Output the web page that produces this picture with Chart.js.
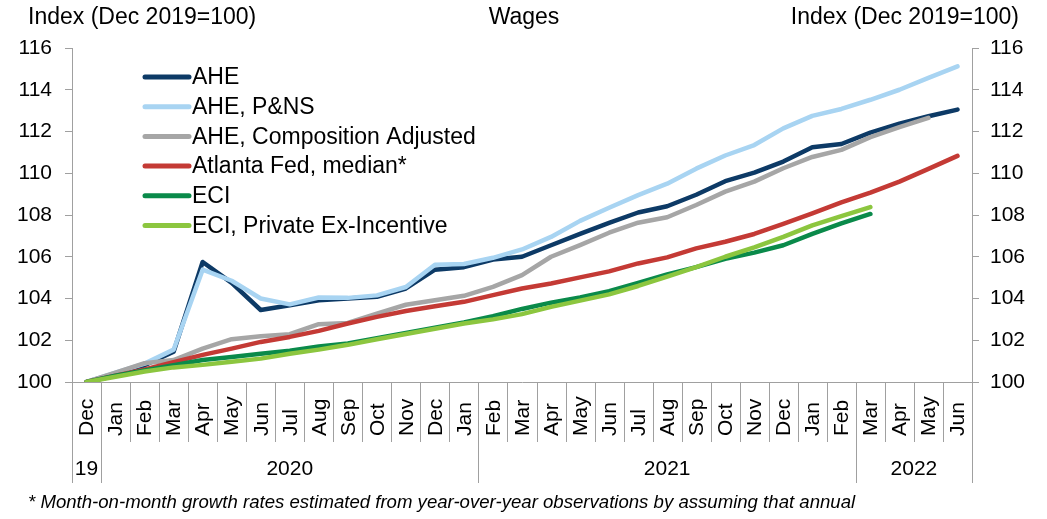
<!DOCTYPE html>
<html>
<head>
<meta charset="utf-8">
<script src="https://cdn.jsdelivr.net/npm/chart.js@4.4.1/dist/chart.umd.min.js"></script>
<style>
  html, body { margin: 0; padding: 0; background: #fff; }
  #wrap { width: 1047px; height: 519px; }
</style>
</head>
<body>
<div id="wrap"><canvas id="chart" width="1047" height="519"></canvas></div>
<script>
// months Dec 2019 .. Jun 2022
const months = ['Dec','Jan','Feb','Mar','Apr','May','Jun','Jul','Aug','Sep','Oct','Nov',
  'Dec','Jan','Feb','Mar','Apr','May','Jun','Jul','Aug','Sep','Oct','Nov',
  'Dec','Jan','Feb','Mar','Apr','May','Jun'];
const yearLabels = ['19', '2020', '2021', '2022'];
const yearStarts = [0, 1, 14, 27];

const ahe = [100, 100.4, 100.8, 101.45, 105.75, 104.75, 103.45, 103.68, 103.92, 104.0, 104.08, 104.48,
  105.38, 105.5, 105.87, 106.0, 106.55, 107.1, 107.62, 108.12, 108.42, 108.97, 109.62, 110.03,
  110.56, 111.25, 111.4, 111.95, 112.38, 112.73, 113.05];
const ahePns = [100, 100.45, 100.88, 101.55, 105.38, 104.85, 104.0, 103.72, 104.05, 104.03, 104.15, 104.55,
  105.62, 105.65, 105.95, 106.35, 106.95, 107.72, 108.35, 108.95, 109.5, 110.22, 110.85, 111.35,
  112.15, 112.75, 113.08, 113.52, 114.0, 114.57, 115.12];
const aheComp = [100, 100.45, 100.9, 101.05, 101.6, 102.05, 102.19, 102.29, 102.77, 102.83, 103.28, 103.7,
  103.92, 104.13, 104.56, 105.12, 106.0, 106.56, 107.15, 107.63, 107.89, 108.48, 109.12, 109.6,
  110.24, 110.78, 111.12, 111.73, 112.21, 112.65];
const atlanta = [100, 100.3, 100.6, 100.95, 101.3, 101.6, 101.92, 102.16, 102.45, 102.8, 103.12, 103.4,
  103.63, 103.84, 104.16, 104.48, 104.72, 105.01, 105.3, 105.68, 105.97, 106.4, 106.72, 107.09,
  107.57, 108.08, 108.6, 109.07, 109.6, 110.21, 110.83];
const eci = [100, 100.3, 100.55, 100.8, 101.05, 101.2, 101.35, 101.5, 101.7, 101.85, 102.1, 102.35,
  102.6, 102.85, 103.15, 103.5, 103.8, 104.05, 104.35, 104.75, 105.15, 105.5, 105.9, 106.2,
  106.55, 107.1, 107.6, 108.05];
const eciPriv = [100, 100.25, 100.5, 100.7, 100.82, 100.97, 101.12, 101.35, 101.55, 101.78, 102.05, 102.3,
  102.55, 102.8, 103.0, 103.25, 103.6, 103.9, 104.2, 104.6, 105.05, 105.5, 106.0, 106.45,
  106.95, 107.5, 107.95, 108.38];

const FONT = '"Liberation Sans", Arial, sans-serif';
const AXIS = '#a0a0a0';

const series = [
  { label: 'AHE', data: ahe, color: '#0d3a66' },
  { label: 'AHE, P&NS', data: ahePns, color: '#a8d4f2' },
  { label: 'AHE, Composition Adjusted', data: aheComp, color: '#a6a6a6' },
  { label: 'Atlanta Fed, median*', data: atlanta, color: '#c43a35' },
  { label: 'ECI', data: eci, color: '#0a8a4a' },
  { label: 'ECI, Private Ex-Incentive', data: eciPriv, color: '#8cc63f' },
];

// custom drawing: titles, legend, month/year axis, footnote
const extras = {
  id: 'extras',
  afterDraw(chart) {
    const ctx = chart.ctx;
    const x = chart.scales.x;
    const area = chart.chartArea;
    const w = x.getPixelForValue(1) - x.getPixelForValue(0);
    ctx.save();

    // titles
    ctx.fillStyle = '#000';
    ctx.font = '23px ' + FONT;
    ctx.textBaseline = 'middle';
    ctx.textAlign = 'left';
    ctx.fillText('Index (Dec 2019=100)', 28, 18);
    ctx.textAlign = 'center';
    ctx.fillText('Wages', 524, 18);
    ctx.textAlign = 'right';
    ctx.fillText('Index (Dec 2019=100)', 1019, 18);

    // legend
    ctx.textAlign = 'left';
    chart.data.datasets.forEach((ds, i) => {
      const y = 77 + i * 29.7;
      ctx.strokeStyle = ds.borderColor;
      ctx.lineWidth = 5;
      ctx.lineCap = 'round';
      ctx.beginPath();
      ctx.moveTo(145, y);
      ctx.lineTo(189, y);
      ctx.stroke();
      ctx.fillText(ds.label, 192, y + 1);
    });

    // month dividers and labels
    ctx.font = '21px ' + FONT;
    ctx.strokeStyle = AXIS;
    ctx.lineWidth = 1;
    ctx.lineCap = 'butt';
    const top = area.bottom;
    for (let i = 0; i <= months.length; i++) {
      const bx = Math.round(x.getPixelForValue(i) - w / 2) + 0.5;
      const isYear = yearStarts.includes(i) || i === months.length;
      ctx.beginPath();
      ctx.moveTo(bx, top);
      ctx.lineTo(bx, isYear ? 483 : 442);
      ctx.stroke();
    }
    months.forEach((m, i) => {
      ctx.save();
      ctx.translate(x.getPixelForValue(i) + 1, 436);
      ctx.rotate(-Math.PI / 2);
      ctx.textAlign = 'left';
      ctx.textBaseline = 'middle';
      ctx.fillText(m, 0, 0);
      ctx.restore();
    });
    yearLabels.forEach((yl, k) => {
      const s = yearStarts[k];
      const e = (k + 1 < yearStarts.length ? yearStarts[k + 1] : months.length) - 1;
      const cx = (x.getPixelForValue(s) + x.getPixelForValue(e)) / 2;
      ctx.textAlign = 'center';
      ctx.fillText(yl, cx, 469);
    });

    // footnote
    ctx.font = 'italic 18.6px ' + FONT;
    ctx.textAlign = 'left';
    ctx.fillText('* Month-on-month growth rates estimated from year-over-year observations by assuming that annual', 28, 503);
    ctx.restore();
  }
};

const yAxis = (pos, width, pad) => ({
  type: 'linear',
  position: pos,
  min: 100,
  max: 116,
  ticks: { stepSize: 2, color: '#000', font: { family: FONT, size: 21 }, padding: pad },
  grid: { drawOnChartArea: false, tickLength: 7, color: AXIS },
  border: { color: AXIS },
  afterFit: s => { s.width = width; },
});

new Chart(document.getElementById('chart'), {
  type: 'line',
  data: {
    labels: months,
    datasets: series.map((s, i) => ({
      label: s.label,
      data: s.data,
      borderColor: s.color,
      backgroundColor: s.color,
      borderWidth: 4.5,
      borderCapStyle: 'round',
      borderJoinStyle: 'round',
      pointRadius: 0,
      tension: 0,
      yAxisID: 'y',
      order: series.length - i,
    })),
  },
  options: {
    responsive: false,
    animation: false,
    devicePixelRatio: 1,
    layout: { padding: { top: 48, left: 0, right: 0, bottom: 0 } },
    plugins: { legend: { display: false }, tooltip: { enabled: false }, title: { display: false } },
    scales: {
      x: {
        offset: true,
        ticks: { display: false },
        grid: { display: false },
        border: { color: AXIS },
        afterFit: s => { s.height = 137; },
      },
      y: yAxis('left', 72, 13),
      y2: yAxis('right', 75, 11),
    },
  },
  plugins: [extras],
});
</script>
</body>
</html>
